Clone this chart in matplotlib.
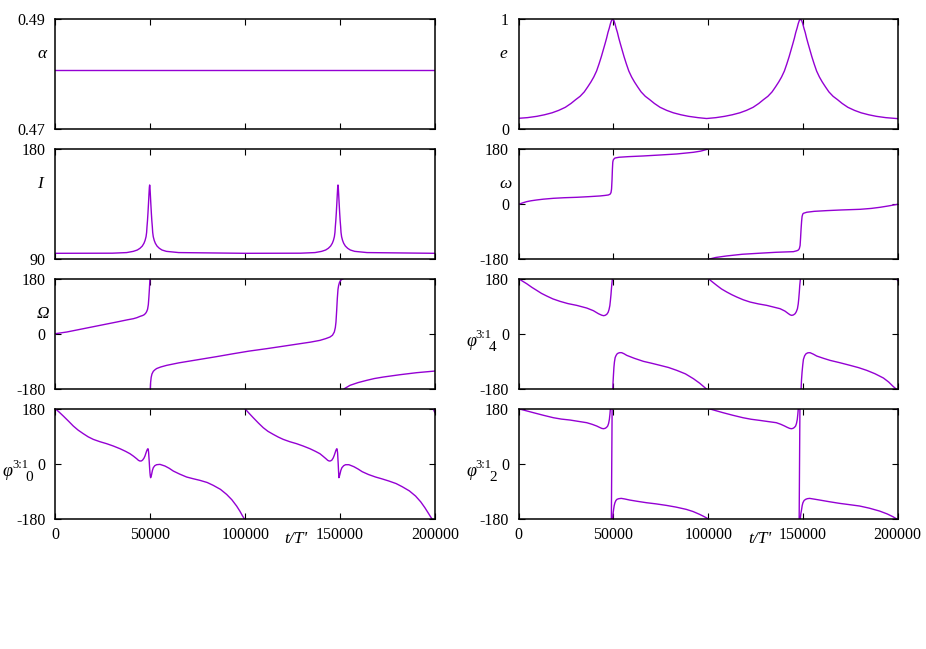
import numpy as np
import matplotlib
matplotlib.use('Agg')
import matplotlib.pyplot as plt
from matplotlib.ticker import FixedLocator, FixedFormatter

plt.rcParams['font.family'] = ['Liberation Serif', 'DejaVu Serif']
plt.rcParams['axes.unicode_minus'] = False

nan = np.nan

# ---------------- data, (t, value) pairs ----------------
x_ticks = [0, 50000, 100000, 150000, 200000]
x_ticklabels = ['0', '50000', '100000', '150000', '200000']
angle_ticks = [-180, 0, 180]
angle_ticklabels = ['-180', '0', '180']

alpha_pts = [(0, 0.4807), (50000, 0.4807), (100000, 0.4807), (150000, 0.4807), (200000, 0.4807)]

e_pts = [(0, 0.100), (4600, 0.106), (9600, 0.118), (13600, 0.132), (17600, 0.15), (21100, 0.172),
         (24600, 0.20), (27600, 0.235), (30100, 0.27), (32400, 0.30), (34600, 0.34), (36400, 0.385),
         (38100, 0.43), (39600, 0.475), (41100, 0.53), (42400, 0.595), (43600, 0.66), (44600, 0.72),
         (45600, 0.78), (46400, 0.83), (47100, 0.88), (47800, 0.92), (48400, 0.96), (49000, 0.99),
         (49600, 1.0), (50200, 0.99), (50800, 0.96), (51400, 0.92), (52100, 0.88), (52800, 0.83),
         (53600, 0.78), (54600, 0.72), (55600, 0.66), (56800, 0.595), (58100, 0.53), (59600, 0.475),
         (61100, 0.43), (62800, 0.385), (64600, 0.34), (66800, 0.30), (69100, 0.27), (71600, 0.235),
         (74600, 0.20), (78100, 0.172), (81600, 0.15), (85600, 0.132), (89600, 0.118), (94600, 0.106),
         (99150, 0.098), (104100, 0.106), (108700, 0.118), (112700, 0.132), (116700, 0.15),
         (120200, 0.172), (123700, 0.20), (126700, 0.235), (129200, 0.27), (131500, 0.30),
         (133700, 0.34), (135500, 0.385), (137200, 0.43), (138700, 0.475), (140200, 0.53),
         (141500, 0.595), (142700, 0.66), (143700, 0.72), (144700, 0.78), (145500, 0.83),
         (146200, 0.88), (146900, 0.92), (147500, 0.96), (148100, 0.99), (148700, 1.0),
         (149300, 0.99), (149900, 0.96), (150500, 0.92), (151200, 0.88), (151900, 0.83),
         (152700, 0.78), (153700, 0.72), (154700, 0.66), (155900, 0.595), (157200, 0.53),
         (158700, 0.475), (160200, 0.43), (161900, 0.385), (163700, 0.34), (165900, 0.30),
         (168200, 0.27), (170700, 0.235), (173700, 0.20), (177200, 0.172), (180700, 0.15),
         (184700, 0.132), (188700, 0.118), (193700, 0.106), (200000, 0.097)]

inc_pts = [(0, 94.9), (30000, 95.0), (37600, 95.5), (41100, 96.5), (43200, 97.6), (44600, 99.0),
           (45800, 100.8), (46700, 103.1), (47300, 105.5), (47800, 108.5), (48100, 112),
           (48300, 116.7), (48550, 121.5), (48800, 127.6), (49100, 136), (49350, 143.5),
           (49550, 149), (49700, 150.8), (49850, 149), (50050, 143.5), (50300, 136), (50600, 127.6),
           (50850, 121.5), (51100, 116.7), (51300, 112), (51600, 108.5), (52100, 105.5),
           (52700, 103.1), (53600, 100.8), (54800, 99.0), (56200, 97.6), (58500, 96.5),
           (65000, 95.5), (100000, 94.9),
           (129200, 95.0), (136800, 95.5), (140300, 96.5), (142400, 97.6), (143800, 99.0),
           (145000, 100.8), (145900, 103.1), (146500, 105.5), (147000, 108.5), (147300, 112),
           (147500, 116.7), (147750, 121.5), (148000, 127.6), (148300, 136), (148550, 143.5),
           (148750, 149), (148900, 150.8), (149050, 149), (149250, 143.5), (149500, 136),
           (149800, 127.6), (150050, 121.5), (150300, 116.7), (150500, 112), (150800, 108.5),
           (151300, 105.5), (151900, 103.1), (152800, 100.8), (154000, 99.0), (155400, 97.6),
           (157700, 96.5), (164200, 95.5), (200000, 94.9)]

omega_pts = [(0, 0), (2000, 4.5), (4220, 8.7), (6500, 11.5), (9510, 14.2), (13000, 16.8),
             (18280, 19.6), (24000, 21.5), (30590, 22.9), (37000, 25), (42910, 27.3), (45500, 29),
             (47300, 30.5), (48200, 33), (48700, 38), (49000, 50), (49250, 80), (49450, 115),
             (49650, 138), (49900, 145), (50290, 148.5), (50820, 151.5), (53000, 154), (58000, 156),
             (65770, 158.2), (75000, 161.5), (83360, 164.7), (92160, 170.2), (96000, 174),
             (99540, 180), (nan, nan),
             (100110, -180), (104000, -174), (109790, -169), (118000, -163.5), (127380, -160),
             (136000, -157), (144970, -155), (146800, -152), (147610, -149.5), (148100, -145),
             (148490, -135), (148750, -110), (149020, -80), (149300, -55), (149540, -40),
             (149900, -32), (150250, -29.5), (152000, -26), (156000, -23), (162560, -20.7),
             (170000, -18.6), (180150, -16.4), (186000, -13.5), (190700, -9.8), (195000, -5.5),
             (200000, 0)]

Omega_pts = [(0, 0), (6010, 5.5), (14790, 16.4), (23560, 27.3), (32340, 38.2), (38000, 45.5),
             (41120, 49.1), (43000, 52.5), (44630, 56.7), (46000, 59.5), (46900, 62.5), (47600, 67),
             (48100, 72), (48600, 80), (49000, 95), (49300, 120), (49600, 150), (49850, 180),
             (nan, nan),
             (50050, -180), (50200, -160), (50500, -143), (50900, -132), (51630, -123),
             (52500, -118), (53390, -114), (55500, -109), (58650, -103.6), (65000, -95.5),
             (76210, -84), (85000, -75), (93770, -65.5), (102000, -57), (111320, -49),
             (120000, -41), (128880, -32.7), (134500, -27.5), (139410, -21.8), (142500, -16),
             (144680, -10.9), (146000, -5), (146960, 5.5), (147500, 20), (147840, 38.2),
             (148200, 75), (148540, 114.5), (148900, 145), (149240, 158), (149700, 168),
             (150300, 174.5), (151000, 178), (151700, 180), (nan, nan),
             (152230, -180), (155220, -169), (159500, -160), (164000, -152.7), (168000, -146.8),
             (172780, -141.8), (181560, -134.2), (190330, -127.6), (200000, -122.2)]

phi4_pts = [(0, 180), (2000, 172), (4220, 163.6), (7000, 151.5), (9510, 141.8), (12000, 132),
            (14790, 123.3), (18000, 114), (21830, 105.8), (26000, 98.5), (30620, 92.7),
            (35900, 84), (39420, 75.3), (42060, 65.5), (43820, 60.5), (44800, 59), (45580, 60),
            (46460, 63.3), (47200, 70), (47690, 79.6), (48100, 92), (48400, 109), (48700, 128),
            (48930, 147), (49200, 165), (49460, 180), (nan, nan),
            (49640, -180), (49800, -158), (49990, -136.4), (50250, -110), (50520, -92.7),
            (50900, -78), (51400, -70.9), (52000, -65.5), (52630, -63.3), (53400, -62),
            (54390, -62.2), (55700, -66), (57020, -70.9), (61000, -80.5), (65820, -90.5),
            (70000, -96.5), (74620, -103.6), (79000, -110.5), (83410, -120), (88000, -131.5),
            (92210, -147.3), (95500, -162), (98900, -180), (nan, nan),
            (100110, 180), (102300, 169), (104500, 158.2), (107000, 146.5), (109790, 136.4),
            (112500, 127.5), (115070, 120), (118500, 111), (122110, 103.6), (126500, 97.5),
            (130900, 92.7), (137940, 81.8), (140500, 74), (142340, 65.5), (143300, 61.5),
            (144100, 60), (145000, 61.5), (145860, 65.5), (146500, 72), (147090, 81.8),
            (147500, 97), (147790, 114.5), (148100, 138), (148320, 158.2), (148670, 180),
            (nan, nan),
            (149020, -180), (149250, -150), (149540, -125.5), (149900, -102), (150250, -84),
            (150900, -72), (151650, -65.5), (152600, -62.5), (153760, -62.2), (155500, -67),
            (157280, -73.1), (160800, -80.5), (164320, -87.3), (169500, -95), (174870, -103.6),
            (179300, -111), (183670, -120), (188000, -131), (192460, -145), (195200, -158),
            (197500, -172), (199000, -180), (nan, nan),
            (199300, 180), (200000, 174)]

phi0_pts = [(0, 180), (2000, 169), (4220, 156), (7000, 139), (9480, 123.3), (12000, 110),
            (14750, 98.2), (17300, 88), (20020, 79.6), (23500, 72), (27040, 65.5), (30500, 58),
            (34060, 49.1), (37000, 40.5), (39330, 32.7), (41200, 24.5), (42840, 16.4),
            (43800, 11), (44600, 8.7), (45400, 9.2), (46000, 12), (46700, 18), (47230, 25.1),
            (47700, 34), (48110, 41.5), (48500, 47), (48810, 49.1), (49000, 45), (49160, 36),
            (49330, 20), (49510, 3.3), (49680, -14), (49860, -29.5), (50030, -40), (50210, -45.8),
            (50450, -42), (50740, -34.9), (51150, -22), (51620, -13.1), (52400, -6.5),
            (53370, -3.3), (55130, -2.2), (57760, -7.6), (60000, -15), (62150, -24),
            (65500, -34), (69170, -43.6), (72500, -49), (76190, -54.5), (80000, -61.5),
            (83210, -70.9), (87000, -84), (90230, -100.4), (93000, -118), (95500, -138.5),
            (97200, -155), (98660, -171.3), (99540, -180), (nan, nan),
            (99880, 180), (102000, 165.5), (104270, 150.5), (107000, 133), (109540, 117.8),
            (112000, 106), (114800, 96), (117500, 87), (120070, 79.6), (123500, 72),
            (127090, 65.5), (130500, 58), (134110, 49.1), (137000, 40.5), (139380, 32.7),
            (141000, 24.5), (142540, 16.4), (143500, 11), (144300, 8.7), (145000, 9.2),
            (145700, 12), (146400, 19), (146930, 27.3), (147400, 36), (147800, 43.6),
            (148100, 47.5), (148330, 49.1), (148500, 44), (148680, 36), (148850, 18),
            (149030, -2.2), (149200, -25), (149380, -45.8), (149600, -42), (149910, -34.9),
            (150400, -22), (150960, -13.1), (151900, -6.5), (152890, -3.3), (154650, -3.3),
            (157280, -9.8), (159500, -17.5), (161670, -26.2), (165000, -35.5), (168690, -43.6),
            (172000, -49.5), (175710, -56.7), (179500, -65), (182730, -75.3), (186500, -89),
            (189750, -105.8), (192500, -125), (194670, -144), (196300, -160), (197650, -173.5),
            (198350, -180), (nan, nan),
            (199060, 180), (199940, 167)]

phi2_pts = [(0, 180), (3500, 174), (7740, 167), (13000, 158.5), (18290, 150.5), (22500, 146),
            (27090, 142.9), (31500, 138.5), (35890, 134.2), (38700, 129), (41170, 123.3),
            (42600, 119), (43810, 115.6), (44700, 114.5), (45570, 115.6), (46300, 118.5),
            (46970, 123.3), (47450, 132), (47850, 145.1), (48150, 162), (48380, 180), (nan, nan),
            (48900, -180), (49300, 180), (nan, nan),
            (49560, -180), (49800, -163), (50090, -149.5), (50400, -137), (50790, -127.6),
            (51300, -120.5), (51850, -116.7), (52800, -114.5), (54130, -113.5), (56000, -115.5),
            (58530, -118.9), (62500, -123), (67330, -127.6), (72500, -131.5), (77880, -136.4),
            (83000, -142), (88440, -149.5), (92000, -156.5), (95470, -165.8), (97800, -173),
            (99870, -180), (nan, nan),
            (100400, 180), (103800, 174), (107790, 167), (113000, 158.5), (118340, 150.5),
            (122600, 145.5), (127140, 141.8), (131500, 138), (135930, 134.2), (138300, 129),
            (140330, 123.3), (141700, 119), (142970, 115.6), (143900, 114.5), (144730, 115.6),
            (145450, 118.5), (146130, 123.3), (146600, 132), (147010, 145.1), (147300, 162),
            (147540, 180), (nan, nan),
            (148000, -180), (148400, 180), (nan, nan),
            (148590, -180), (148900, -163), (149290, -149.5), (149600, -137), (149990, -127.6),
            (150600, -120.5), (151400, -116.7), (152300, -114.5), (153510, -113.5),
            (156000, -116), (158790, -118.9), (164000, -124.5), (169340, -129.8), (174500, -134),
            (179900, -138.5), (185000, -145.5), (190450, -155), (194500, -164.5),
            (197490, -173.5), (199250, -180), (nan, nan),
            (199350, 180), (200000, 178)]

# ---------------- figure ----------------
W, H = 926, 649
fig = plt.figure(figsize=(W / 100, H / 100), dpi=100)
LINE = '#9400D3'

cols = [(55.3, 435.0), (518.7, 897.7)]
rows = [(19.3, 129.3), (149.3, 259.3), (278.7, 388.7), (408.7, 518.7)]


def make_ax(c, r):
    x0, x1 = cols[c]
    y0, y1 = rows[r]
    ax = fig.add_axes([x0 / W, 1 - y1 / H, (x1 - x0) / W, (y1 - y0) / H])
    ax.set_xlim(0, 200000)
    ax.xaxis.set_major_locator(FixedLocator(x_ticks))
    if r == 3:
        ax.xaxis.set_major_formatter(FixedFormatter(x_ticklabels))
    else:
        ax.set_xticklabels([])
    ax.tick_params(axis='both', which='both', direction='in', top=True, right=True,
                   length=4.5, width=0.8, labelsize=11.5, pad=7, colors='black')
    ax.tick_params(axis='x', pad=6)
    for s in ax.spines.values():
        s.set_linewidth(1.1)
    return ax


def set_y(ax, lo, hi, ticks, labels):
    ax.set_ylim(lo, hi)
    ax.yaxis.set_major_locator(FixedLocator(ticks))
    ax.yaxis.set_major_formatter(FixedFormatter(labels))


def draw(ax, pts):
    arr = np.array(pts, dtype=float)
    ax.plot(arr[:, 0], arr[:, 1], color=LINE, lw=1.0)


def ylab(ax, x, y, s, size=12.5):
    ax.text(x, y, s, transform=ax.transAxes, ha='center', va='center', fontsize=size,
            fontstyle='italic', family='Liberation Serif')


def philab(c, r, sub):
    # gnuplot-style label: phi, then superscript "3:1", then subscript after it
    xl = cols[c][0]
    zero_y = (rows[r][0] + rows[r][1]) / 2.0
    fig.text((xl - 52.5) / W, 1 - (zero_y + 12) / H, 'φ', fontsize=13, fontstyle='italic',
             ha='left', va='baseline')
    fig.text((xl - 43) / W, 1 - (zero_y + 4.5) / H, '3:1', fontsize=9,
             ha='left', va='baseline')
    fig.text((xl - 29.5) / W, 1 - (zero_y + 17.5) / H, sub, fontsize=11,
             ha='left', va='baseline')


ax = make_ax(0, 0)
draw(ax, alpha_pts)
set_y(ax, 0.47, 0.49, [0.47, 0.49], ['0.47', '0.49'])
ylab(ax, -0.035, 0.685, 'α')

ax = make_ax(1, 0)
draw(ax, e_pts)
set_y(ax, 0, 1, [0, 1], ['0', '1'])
ylab(ax, -0.041, 0.685, 'e')

ax = make_ax(0, 1)
draw(ax, inc_pts)
set_y(ax, 90, 180, [90, 180], ['90', '180'])
ylab(ax, -0.040, 0.685, 'I')

ax = make_ax(1, 1)
draw(ax, omega_pts)
set_y(ax, -180, 180, angle_ticks, angle_ticklabels)
ylab(ax, -0.036, 0.685, 'ω')

ax = make_ax(0, 2)
draw(ax, Omega_pts)
set_y(ax, -180, 180, angle_ticks, angle_ticklabels)
ylab(ax, -0.032, 0.68, 'Ω')

ax = make_ax(1, 2)
draw(ax, phi4_pts)
set_y(ax, -180, 180, angle_ticks, angle_ticklabels)
philab(1, 2, '4')

ax = make_ax(0, 3)
draw(ax, phi0_pts)
set_y(ax, -180, 180, angle_ticks, angle_ticklabels)
philab(0, 3, '0')
ax.text(0.634, -0.186, "t/T'", transform=ax.transAxes, ha='center', va='center',
        fontsize=12.5, fontstyle='italic')

ax = make_ax(1, 3)
draw(ax, phi2_pts)
set_y(ax, -180, 180, angle_ticks, angle_ticklabels)
philab(1, 3, '2')
ax.text(0.637, -0.186, "t/T'", transform=ax.transAxes, ha='center', va='center',
        fontsize=12.5, fontstyle='italic')

fig.savefig('out.png', dpi=100)
